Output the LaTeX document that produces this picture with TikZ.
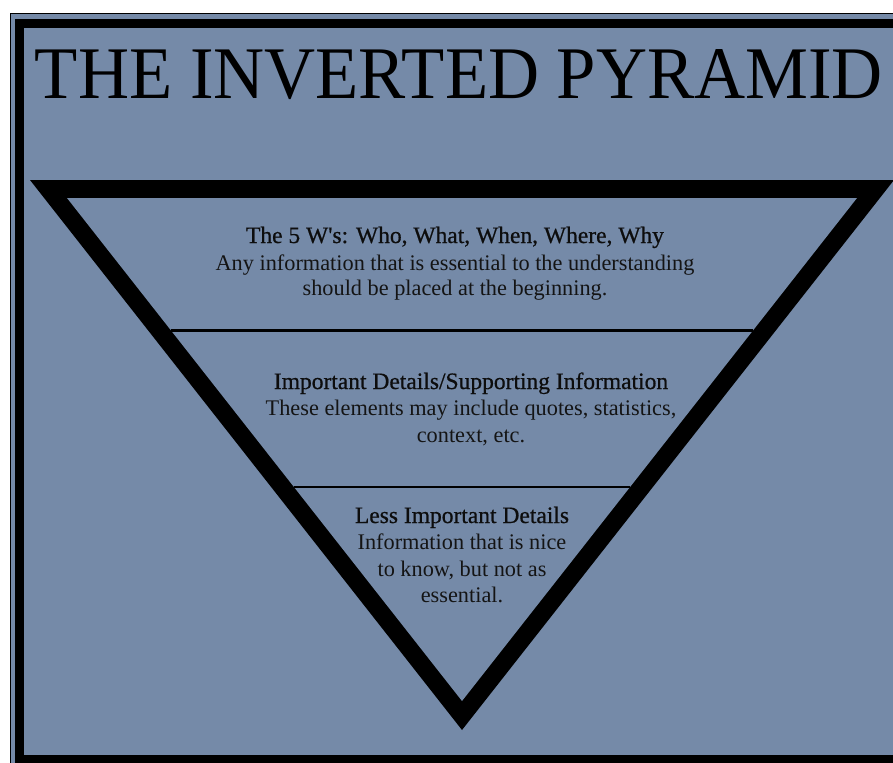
\documentclass[tikz,border=0pt]{standalone}
\usepackage{fontspec}
\setmainfont{Liberation Serif}
\newfontfamily\headfont{Liberation Serif}[FakeBold=0.7]
\definecolor{bgblue}{RGB}{117,138,168}
\tikzset{
  bodytext/.style={anchor=base, inner sep=0pt, text=black!92, font=\fontsize{22.3}{27}\selectfont},
  headtext/.style={anchor=base, inner sep=0pt, text=black!95, font=\headfont\fontsize{23.5}{27}\selectfont},
  divider/.style={line width=2.5pt, black},
}
\begin{document}
\begin{tikzpicture}[x=1pt,y=-1pt]
\useasboundingbox (0,0) rectangle (893,762);
\fill[white] (0,0) rectangle (893,762);
% background and frame
\fill[bgblue] (9.5,13) rectangle (900,770);
\draw[line width=1.5pt, black] (10.25,13.75) rectangle (900,770);
\draw[line width=9pt, black] (19.5,23.5) rectangle (905,759.5);
% pyramid
\fill[black] (30,180) -- (894,180) -- (462,730) -- cycle;
\fill[bgblue] (67,198) -- (857,198) -- (462,701) -- cycle;
\coordinate (d1l) at (170.7,330.5);
\coordinate (d1r) at (753.3,330.5);
\coordinate (d2l) at (294,487);
\coordinate (d2r) at (630,487);
\draw[divider] (d1l) -- (d1r);
\draw[line width=2pt, black] (d2l) -- (d2r);
% title
\node[anchor=base, inner sep=0pt] (title) at (459,99)
  {\resizebox{848pt}{49pt}{THE INVERTED PYRAMID}};
% section 1
\node[headtext] (s1a) at (455,243) {The 5 W's: Who, What, When, Where, Why};
\node[bodytext] (s1b) at (455,270) {Any information that is essential to the understanding};
\node[bodytext] (s1c) at (455,295) {should be placed at the beginning.};
% section 2
\node[headtext] (s2a) at (471,389) {Important Details/Supporting Information};
\node[bodytext] (s2b) at (471,415) {These elements may include quotes, statistics,};
\node[bodytext] (s2c) at (471,442) {context, etc.};
% section 3
\node[headtext] (s3a) at (462,523) {Less Important Details};
\node[bodytext] (s3b) at (462,549) {Information that is nice};
\node[bodytext] (s3c) at (462,576) {to know, but not as};
\node[bodytext] (s3d) at (462,602) {essential.};
\end{tikzpicture}
\end{document}
